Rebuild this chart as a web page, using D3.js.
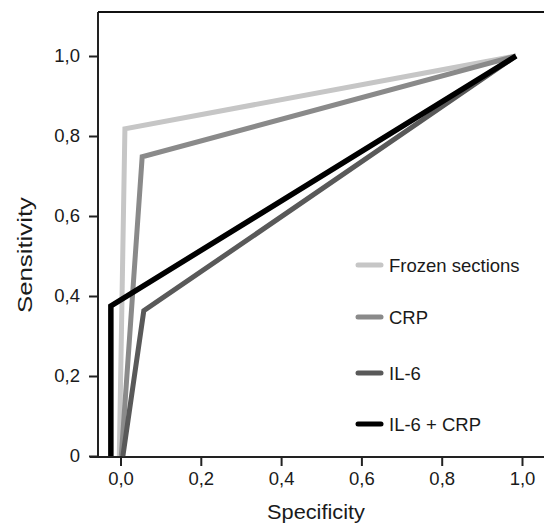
<!DOCTYPE html>
<html>
<head>
<meta charset="utf-8">
<script src="https://cdn.jsdelivr.net/npm/d3@7"></script>
<style>
    body { margin: 0; background: #fff; }
    svg text { font-family: "Liberation Sans", Arial, sans-serif; fill: #1a1a1a; }
</style>
</head>
<body>
<svg id="chart" width="544" height="526"></svg>
<script>
// ROC curves, values
var seriesNames = ["Frozen sections", "CRP", "IL-6", "IL-6 + CRP"];
var seriesColors = ["#c6c6c6", "#8a8a8a", "#595959", "#000000"];
var frozenSpec = [-0.003, 0.011, 0.985];
var frozenSens = [0, 0.818, 1.0];
var crpSpec = [0.002, 0.054, 0.985];
var crpSens = [0, 0.748, 1.0];
var il6Spec = [0.006, 0.058, 0.985];
var il6Sens = [0, 0.363, 1.0];
var comboSpec = [-0.024, -0.024, 0.985];
var comboSens = [0, 0.375, 1.0];
var xTicks = [0, 0.2, 0.4, 0.6, 0.8, 1.0];
var yTicks = [0, 0.2, 0.4, 0.6, 0.8, 1.0];

var space = {left: 98, top: 12, bottom: 457, right: 544};
var svg = d3.select("#chart");

var x = d3.scaleLinear().domain([0, 1]).range([120.5, 522]);
var y = d3.scaleLinear().domain([0, 1]).range([456, 56]);

var commaFmt = function (d) {
    return d3.format(".1f")(d).replace(".", ",");
};

// axes
var xAxis = d3.axisBottom(x).tickValues(xTicks).tickSize(9).tickSizeOuter(0).tickPadding(6)
    .tickFormat(commaFmt);
var yAxis = d3.axisLeft(y).tickValues(yTicks).tickSize(9).tickSizeOuter(0).tickPadding(9)
    .tickFormat(function (d) { return d === 0 ? "0" : commaFmt(d); });

var gx = svg.append("g").attr("transform", "translate(0," + space.bottom + ")").call(xAxis);
var gy = svg.append("g").attr("transform", "translate(" + space.left + ",0)").call(yAxis);
[gx, gy].forEach(function (g) {
    g.select(".domain").remove();
    g.selectAll(".tick line").attr("stroke", "#222").attr("stroke-width", 2);
    g.selectAll(".tick text").attr("font-size", 18.5).attr("fill", "#1a1a1a")
        .style("font-family", "'Liberation Sans', Arial, sans-serif");
});

// frame lines
svg.append("line").attr("x1", 90).attr("x2", space.right).attr("y1", space.bottom).attr("y2", space.bottom)
    .attr("stroke", "#222").attr("stroke-width", 2);
svg.append("line").attr("x1", space.left).attr("x2", space.left).attr("y1", space.top).attr("y2", space.bottom)
    .attr("stroke", "#222").attr("stroke-width", 2);
svg.append("line").attr("x1", space.left).attr("x2", space.right).attr("y1", space.top).attr("y2", space.top)
    .attr("stroke", "#111").attr("stroke-width", 2);

// curves
var series = [
    {spec: frozenSpec, sens: frozenSens},
    {spec: crpSpec, sens: crpSens},
    {spec: il6Spec, sens: il6Sens},
    {spec: comboSpec, sens: comboSens}
];
var line = d3.line()
    .x(function (d) { return x(d[0]); })
    .y(function (d) { return y(d[1]); });

series.forEach(function (s, i) {
    var pts = s.spec.map(function (v, j) { return [v, s.sens[j]]; });
    svg.append("path")
        .attr("d", line(pts))
        .attr("fill", "none")
        .attr("stroke", seriesColors[i])
        .attr("stroke-width", i === 3 ? 5.5 : 5)
        .attr("stroke-linejoin", "miter");
});

// legend
var legendY = [265, 317, 373, 424];
var legend = svg.append("g");
seriesNames.forEach(function (name, i) {
    legend.append("line")
        .attr("x1", 358).attr("x2", 381)
        .attr("y1", legendY[i]).attr("y2", legendY[i])
        .attr("stroke", seriesColors[i]).attr("stroke-width", 5)
        .attr("stroke-linecap", "round");
    legend.append("text")
        .attr("x", 389).attr("y", legendY[i] + 7)
        .attr("font-size", 18.5)
        .text(name);
});

// axis titles
svg.append("text")
    .attr("x", 316).attr("y", 519)
    .attr("text-anchor", "middle")
    .attr("font-size", 20)
    .attr("textLength", 98).attr("lengthAdjust", "spacingAndGlyphs")
    .text("Specificity");
svg.append("text")
    .attr("transform", "translate(32,255) rotate(-90)")
    .attr("text-anchor", "middle")
    .attr("font-size", 20)
    .attr("textLength", 116).attr("lengthAdjust", "spacingAndGlyphs")
    .text("Sensitivity");
</script>
</body>
</html>
